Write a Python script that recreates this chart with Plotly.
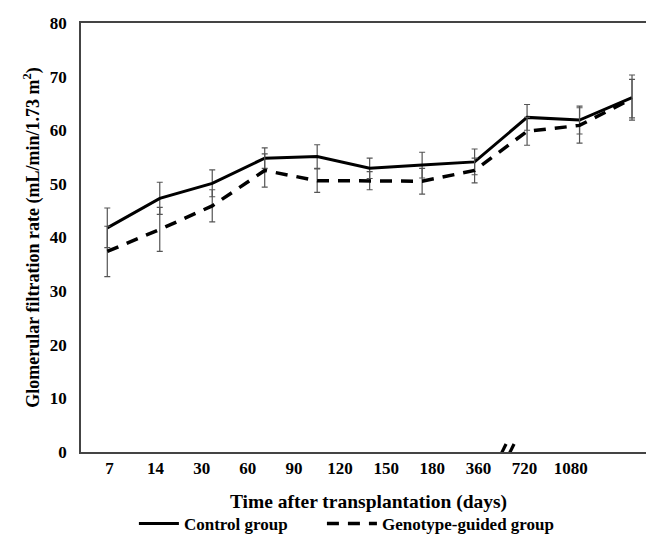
import plotly.graph_objects as go

# ---- data ----
time_labels = ["7", "14", "30", "60", "90", "120", "150", "180", "360", "720", "1080"]
point_index = list(range(11))
control_gfr = [41.8, 47.3, 50.1, 54.8, 55.1, 52.9, 53.5, 54.1, 62.4, 61.9, 66.1]
control_err = [3.7, 3.0, 2.5, 1.9, 2.2, 1.9, 2.4, 2.4, 2.4, 2.6, 4.2]
genotype_gfr = [37.4, 41.5, 45.9, 52.5, 50.6, 50.6, 50.5, 52.5, 59.8, 60.9, 65.9]
genotype_err = [4.7, 4.1, 3.0, 3.1, 2.2, 1.7, 2.4, 2.3, 2.6, 3.3, 3.6]

FONT = "Liberation Serif"
AXIS_COL = "#444444"
ERR_COL = "#555555"

fig = go.Figure()
fig.add_trace(go.Scatter(
    x=point_index, y=control_gfr, mode="lines", name="Control group",
    line=dict(color="black", width=3), legend="legend",
    error_y=dict(type="data", array=control_err, visible=True,
                 color=ERR_COL, thickness=1.2, width=3),
))
fig.add_trace(go.Scatter(
    x=point_index, y=genotype_gfr, mode="lines", name="Genotype-guided group",
    line=dict(color="black", width=3.5, dash="12px,9px"), legend="legend2",
    error_y=dict(type="data", array=genotype_err, visible=True,
                 color=ERR_COL, thickness=1.2, width=3),
))

# tick labels sit slightly offset from the points, as in the reference
tick_pos = [0.04 + 0.879 * i for i in range(len(time_labels))]

legend_font = dict(family=FONT, size=17, color="black", weight="bold")

fig.update_layout(
    width=654, height=540,
    margin=dict(l=73, r=6, t=15, b=82),
    paper_bgcolor="white", plot_bgcolor="white",
    font=dict(family=FONT, size=16, color="black", weight="bold"),
    showlegend=True,
    legend=dict(orientation="h", x=0.092, xanchor="left", y=-0.168, yanchor="middle",
                font=legend_font, itemwidth=40, bgcolor="rgba(0,0,0,0)"),
    legend2=dict(orientation="h", x=0.419, xanchor="left", y=-0.168, yanchor="middle",
                 font=legend_font, itemwidth=50, bgcolor="rgba(0,0,0,0)"),
    xaxis=dict(
        range=[-0.501, 10.457], showgrid=False, zeroline=False, automargin=False,
        showline=True, linecolor=AXIS_COL, linewidth=1.5, mirror=True,
        tickmode="array", tickvals=tick_pos, ticktext=time_labels,
        ticks="", tickfont=dict(family=FONT, size=17, color="black", weight="bold"),
        title=dict(text="Time after transplantation (days)", standoff=17,
                   font=dict(family=FONT, size=19.5, color="black", weight="bold")),
    ),
    yaxis=dict(
        range=[0, 80], dtick=10, showgrid=False, zeroline=False, automargin=False,
        showline=True, linecolor=AXIS_COL, linewidth=1.5, mirror=True,
        ticks="", ticklabelstandoff=9,
        tickfont=dict(family=FONT, size=17, color="black", weight="bold"),
        title=dict(text="Glomerular filtration rate (mL/min/1.73 m<sup>2</sup>)", standoff=6,
                   font=dict(family=FONT, size=18, color="black", weight="bold")),
    ),
)

# axis break marker between 360 and 720: two short thick slanted strokes
for dx in (-4, 4):
    fig.add_shape(type="line", xref="x", yref="y", xsizemode="pixel", ysizemode="pixel",
                  xanchor=7.6, yanchor=0,
                  x0=dx - 4, y0=-8, x1=dx + 4, y1=8,
                  line=dict(color="black", width=3.2))

fig.write_html("out.html")
